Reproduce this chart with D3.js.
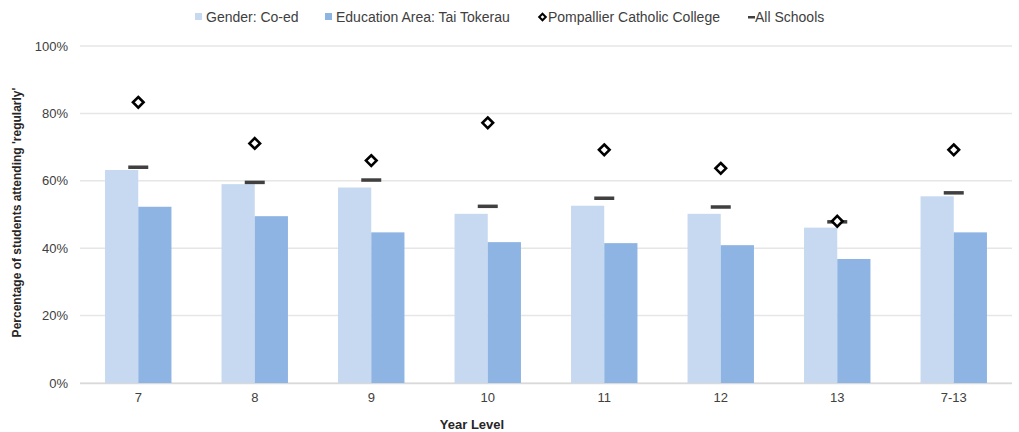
<!DOCTYPE html>
<html>
<head>
<meta charset="UTF-8">
<title>Regular attendance by year level</title>
<script src="https://d3js.org/d3.v7.min.js"></script>
<style>
  body { margin: 0; background: #fff; }
  text { font-family: "Liberation Sans", Arial, sans-serif; }
  .grid line { stroke: #e6e6e6; stroke-width: 1.5px; }
  .tick text { fill: #404040; font-size: 13px; }
</style>
</head>
<body>
<svg id="chart" width="1019" height="432"></svg>
<script>
// data (percent)
const yearLevels = ["7", "8", "9", "10", "11", "12", "13", "7-13"];
const coEd       = [63.2, 59.0, 58.0, 50.2, 52.6, 50.2, 46.1, 55.4];
const taiTokerau = [52.3, 49.5, 44.7, 41.8, 41.5, 40.9, 36.8, 44.7];
const pompallier = [83.3, 71.1, 66.0, 77.2, 69.2, 63.7, 48.0, 69.2];
const allSchools = [64.1, 59.6, 60.3, 52.5, 54.9, 52.3, 47.9, 56.5];
const yTicks = [0, 20, 40, 60, 80, 100];

const lightBlue = "#c6d9f0", midBlue = "#8eb4e3";

const svg = d3.select("#chart");
const margin = { left: 80, right: 7, top: 46, bottom: 49 };
const width = 1019 - margin.left - margin.right;
const height = 432 - margin.top - margin.bottom;

const g = svg.append("g").attr("transform", `translate(${margin.left},${margin.top})`);

const x = d3.scaleBand().domain(yearLevels).range([0, width]).paddingInner(0.43).paddingOuter(0.215);
const x1 = d3.scaleBand().domain(["coEd", "area"]).range([0, x.bandwidth()]);
const y = d3.scaleLinear().domain([0, 100]).range([height, 0]);

// gridlines
g.append("g").attr("class", "grid")
  .selectAll("line").data(yTicks).enter().append("line")
  .attr("x1", 0).attr("x2", width)
  .attr("y1", d => y(d)).attr("y2", d => y(d));

// y axis labels
const yAxis = g.append("g")
  .call(d3.axisLeft(y).tickValues(yTicks).tickFormat(d => d + "%").tickSize(0).tickPadding(12));
yAxis.select(".domain").remove();
yAxis.selectAll("text").attr("fill", "#404040");

// x axis
const xAxis = g.append("g").attr("transform", `translate(0,${height})`)
  .call(d3.axisBottom(x).tickSize(0).tickPadding(10));
xAxis.select(".domain").attr("stroke", "#d9d9d9").attr("stroke-width", 1.5)
  .attr("d", `M0,0.5H${width}`);

// bars
const groups = g.append("g").selectAll("g").data(yearLevels).enter().append("g")
  .attr("transform", d => `translate(${x(d)},0)`);

groups.append("rect")
  .attr("x", x1("coEd")).attr("width", x1.bandwidth())
  .attr("y", (d, i) => y(coEd[i])).attr("height", (d, i) => height - y(coEd[i]))
  .attr("fill", lightBlue);

groups.append("rect")
  .attr("x", x1("area")).attr("width", x1.bandwidth())
  .attr("y", (d, i) => y(taiTokerau[i])).attr("height", (d, i) => height - y(taiTokerau[i]))
  .attr("fill", midBlue);

// all schools dash
groups.append("rect")
  .attr("x", x.bandwidth() / 2 - 10).attr("width", 20)
  .attr("y", (d, i) => y(allSchools[i]) - 1.5).attr("height", 3.5)
  .attr("fill", "#404040");

// school diamond
const diamond = d3.symbol().type(d3.symbolDiamond2).size(72);
groups.append("path")
  .attr("d", diamond)
  .attr("transform", (d, i) => `translate(${x.bandwidth() / 2},${y(pompallier[i])})`)
  .attr("fill", "#fff").attr("stroke", "#000").attr("stroke-width", 2.6);

// axis titles
svg.append("text")
  .attr("transform", `translate(21,${margin.top + height / 2 - 2}) rotate(-90)`)
  .attr("text-anchor", "middle")
  .attr("font-size", 12).attr("font-weight", "bold").attr("fill", "#262626")
  .text("Percentage of students attending 'regularly'");

svg.append("text")
  .attr("x", 472).attr("y", 429)
  .attr("text-anchor", "middle")
  .attr("font-size", 13).attr("font-weight", "bold").attr("fill", "#262626")
  .text("Year Level");

// legend
const legend = [
  { label: "Gender: Co-ed", type: "rect", color: lightBlue, x: 195 },
  { label: "Education Area: Tai Tokerau", type: "rect", color: midBlue, x: 325 },
  { label: "Pompallier Catholic College", type: "diamond", x: 538 },
  { label: "All Schools", type: "dash", x: 748 }
];
const lg = svg.append("g").selectAll("g").data(legend).enter().append("g")
  .attr("transform", d => `translate(${d.x},17)`);

lg.filter(d => d.type === "rect").append("rect")
  .attr("x", 0).attr("y", -4).attr("width", 7).attr("height", 7)
  .attr("fill", d => d.color);
lg.filter(d => d.type === "diamond").append("path")
  .attr("d", d3.symbol().type(d3.symbolDiamond2).size(28))
  .attr("transform", "translate(4.5,0)")
  .attr("fill", "#fff").attr("stroke", "#000").attr("stroke-width", 2);
lg.filter(d => d.type === "dash").append("rect")
  .attr("x", 0).attr("y", -1).attr("width", 7).attr("height", 2.5)
  .attr("fill", "#404040");

lg.append("text")
  .attr("x", d => d.type === "diamond" ? 10 : d.type === "dash" ? 7 : 11).attr("y", 5)
  .attr("font-size", 14).attr("fill", "#404040")
  .text(d => d.label);
</script>
</body>
</html>
